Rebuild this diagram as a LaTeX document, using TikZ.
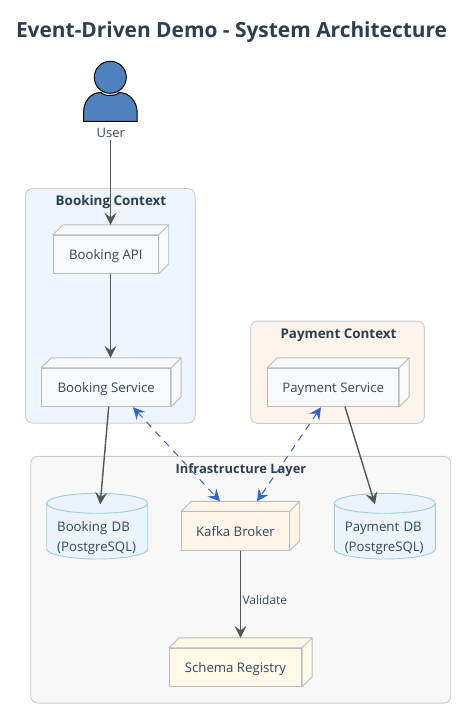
\documentclass[tikz,border=0pt]{standalone}
\usepackage{fontspec}
\setmainfont{Open Sans}
\usetikzlibrary{arrows.meta}
\definecolor{ink}{HTML}{2C3E50}
\definecolor{soft}{HTML}{34495E}
\definecolor{flowc}{HTML}{555555}
\definecolor{dashc}{HTML}{3366CC}
\definecolor{grpline}{HTML}{CCCCCC}
\definecolor{boxline}{HTML}{BBBBBB}
\definecolor{dbline}{HTML}{A5CBDD}
\definecolor{dbfill}{HTML}{EAF4FA}
\definecolor{bookfill}{HTML}{EEF5FE}
\definecolor{payfill}{HTML}{FDF5EC}
\definecolor{infrafill}{HTML}{F8F8F8}
\definecolor{plainfill}{HTML}{F8F9FA}
\definecolor{kafkafill}{HTML}{FEF5E9}
\definecolor{schemafill}{HTML}{FFF9E8}
\definecolor{userfill}{HTML}{4F81BD}
\tikzset{
  grp/.style={draw=grpline,line width=0.9pt,rounded corners=7pt,inner sep=0pt},
  grptitle/.style={font=\fontsize{13.4}{15}\selectfont\bfseries,text=ink,inner sep=0pt,text height=9.5pt,text depth=0pt},
  boxfront/.style={draw=boxline,line width=0.9pt,inner sep=0pt,text=soft,font=\fontsize{13.2}{15}\selectfont,text height=11pt,text depth=0pt},
  boxroof/.style={draw=boxline,line width=0.9pt,line join=round},
  dbshape/.style={draw=dbline,fill=dbfill,line width=0.9pt},
  dbtext/.style={inner sep=0pt,text=soft,font=\fontsize{13.2}{20}\selectfont,align=left,text width=80pt},
  flow/.style={draw=flowc,line width=1.4pt,-{Stealth[inset=4.5pt,length=12pt,width=12pt]}},
  evt/.style={draw=dashc,line width=1pt,dash pattern=on 7pt off 6pt,{Stealth[inset=4.5pt,length=12pt,width=12pt]}-{Stealth[inset=4.5pt,length=12pt,width=12pt]}},
}
% name, centre x, centre y, width, height, fill, text  (front face; 10 units of depth)
\newcommand{\boxthree}[7]{%
  \node[boxfront,fill=#6,minimum width=#4pt,minimum height=#5pt] (#1) at (#2,#3) {#7};
  \draw[boxroof,fill=#6] (#1.north west) -- ++(10pt,10pt) -- ([xshift=10pt,yshift=10pt]#1.north east) -- ([xshift=10pt,yshift=10pt]#1.south east) -- (#1.south east) -- (#1.north east) -- cycle;
  \draw[boxroof] (#1.north east) -- ++(10pt,10pt);
}
% name, left, right, top, bottom, centre x, centre y, text
\newcommand{\dbnode}[8]{%
  \path[dbshape] (#2,#4+10) arc[start angle=180,end angle=0,x radius=50.5pt,y radius=10pt]
     -- (#3,#5-10) arc[start angle=0,end angle=-180,x radius=50.5pt,y radius=10pt] -- cycle;
  \draw[dbshape,fill=none] (#2,#4+10) arc[start angle=180,end angle=360,x radius=50.5pt,y radius=10pt];
  \node[dbtext,minimum height=66pt] (#1) at (#6,#7) {#8};
}
\begin{document}
\begin{tikzpicture}[x=1pt,y=-1pt]
\useasboundingbox (0,0) rectangle (463,708);
\fill[white] (0,0) rectangle (463,708);

\node[font=\fontsize{20.9}{24}\selectfont\bfseries,text=ink,inner sep=0pt] (title) at (231.5,32.5) {Event-Driven Demo - System Architecture};

% groups
\node[grp,fill=bookfill,minimum width=169.5pt,minimum height=234.5pt] (gbook) at (110.3,305.8) {};
\node[grp,fill=payfill,minimum width=173.6pt,minimum height=102.3pt] (gpay) at (337.5,372.2) {};
\node[grp,fill=infrafill,minimum width=420pt,minimum height=246.7pt] (ginfra) at (240.7,579.7) {};

% user icon
\begin{scope}[draw=black,line width=1pt,fill=userfill]
\filldraw (83.5,121.3) -- (83.5,113) .. controls (83.5,101) and (91,92.5) .. (101,92.5)
  .. controls (104,96.5) and (116,96.5) .. (119,92.5)
  .. controls (129,92.5) and (137.2,101) .. (137.2,113) -- (137.2,121.3) -- cycle;
\node[circle,draw=black,line width=1pt,fill=userfill,minimum size=32pt,inner sep=0pt] (head) at (110.3,77.3) {};
\end{scope}
\node[inner sep=0pt,text=soft,font=\fontsize{13}{15}\selectfont] (user) at (110.8,132.5) {User};

% boxes
\boxthree{bapi}{105.8}{254.3}{105}{38}{plainfill}{Booking API}
\boxthree{bsvc}{106.2}{387.3}{129}{38}{plainfill}{Booking Service}
\boxthree{psvc}{333.2}{387.3}{131}{38}{plainfill}{Payment Service}
\boxthree{kafka}{235.5}{531}{107.6}{38.5}{kafkafill}{Kafka Broker}
\boxthree{schema}{235.5}{667.3}{132.4}{38}{schemafill}{Schema Registry}

% databases
\dbnode{bdb}{46.7}{147.7}{493.3}{559}{97.2}{538}{Booking DB\\(PostgreSQL)}
\dbnode{pdb}{334.3}{435.3}{493.3}{559}{384.8}{538}{Payment DB\\(PostgreSQL)}

% group titles
\node[grptitle] (tbook) at (111,200.5) {Booking Context};
\node[grptitle] (tpay) at (338.5,333.5) {Payment Context};
\node[grptitle,font=\fontsize{12.9}{15}\selectfont\bfseries] (tinfra) at (241,468.5) {Infrastructure Layer};

% connectors
\draw[flow] (user.south) ++(-0.3,3) -- ([xshift=4.7pt,yshift=10pt]bapi.north);
\draw[flow] ([xshift=4.7pt]bapi.south) -- ([xshift=4.3pt,yshift=10pt]bsvc.north);
\draw[flow] ([xshift=2.5pt]bsvc.south) -- ([xshift=3pt,yshift=0.5pt]bdb.north);
\draw[flow] ([xshift=11.8pt]psvc.south) -- ([xshift=-9.8pt,yshift=0.5pt]pdb.north);
\draw[flow] ([xshift=5pt]kafka.south) -- ([xshift=5pt,yshift=10pt]schema.north);
\draw[evt] ([xshift=26.8pt,yshift=-0.5pt]bsvc.south) -- ([xshift=-15.5pt,yshift=10pt]kafka.north);
\draw[evt] ([xshift=-12.2pt,yshift=-0.5pt]psvc.south) -- ([xshift=21.5pt,yshift=10pt]kafka.north);

\node[inner sep=0pt,anchor=west,text=soft,font=\fontsize{12}{14}\selectfont] (lval) at (242.3,599.5) {Validate};
\end{tikzpicture}
\end{document}
